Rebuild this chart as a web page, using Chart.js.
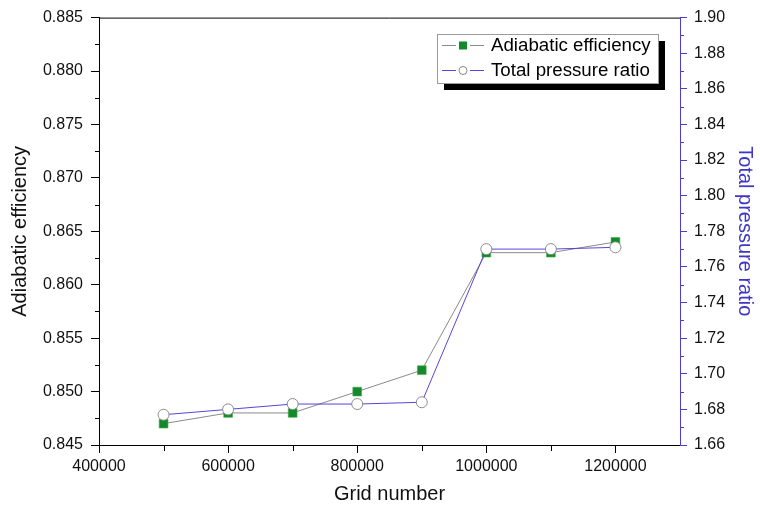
<!DOCTYPE html>
<html>
<head>
<meta charset="utf-8">
<script src="https://cdn.jsdelivr.net/npm/chart.js@4.4.1/dist/chart.umd.min.js"></script>
<style>
html,body{margin:0;padding:0;background:#fff;}
#wrap{width:760px;height:511px;}
</style>
</head>
<body>
<div id="wrap"><canvas id="c" width="760" height="511"></canvas></div>
<script>
const gridNumbers = [500000, 600000, 700000, 800000, 900000, 1000000, 1100000, 1200000];
const adiabaticEfficiency = [0.847, 0.848, 0.848, 0.850, 0.852, 0.863, 0.863, 0.864];
const totalPressureRatio = [1.677, 1.680, 1.683, 1.683, 1.684, 1.770, 1.770, 1.771];
const seriesLabels = ['Adiabatic efficiency', 'Total pressure ratio'];
const xTickValues = [400000, 600000, 800000, 1000000, 1200000];

const BLUE_AXIS = '#4a3fcf';
const BLUE_LINE = '#5446d8';
const GREEN = '#14882a';

const FONT = "'Liberation Sans', Arial, sans-serif";

const minorTicks = {
  id: 'minorTicks',
  afterDraw(chart) {
    const ctx = chart.ctx;
    const ca = chart.chartArea;
    ctx.save();
    ctx.lineWidth = 1;
    // top frame
    ctx.strokeStyle = '#000';
    ctx.beginPath();
    ctx.moveTo(ca.left, ca.top + 0.5);
    ctx.lineTo(ca.right, ca.top + 0.5);
    ctx.stroke();
    // x minor ticks
    const xs = chart.scales.x;
    for (let v = 500000; v < 1300000; v += 200000) {
      const px = Math.round(xs.getPixelForValue(v)) + 0.5;
      ctx.beginPath();
      ctx.moveTo(px, ca.bottom);
      ctx.lineTo(px, ca.bottom + 6);
      ctx.stroke();
    }
    // left minor ticks
    const yl = chart.scales.y;
    for (let v = 0.8475; v < 0.885; v += 0.005) {
      const py = Math.round(yl.getPixelForValue(v)) + 0.5;
      ctx.beginPath();
      ctx.moveTo(ca.left, py);
      ctx.lineTo(ca.left - 4, py);
      ctx.stroke();
    }
    // right minor ticks
    const yr = chart.scales.y1;
    ctx.strokeStyle = BLUE_AXIS;
    for (let v = 1.67; v < 1.90; v += 0.02) {
      const py = Math.round(yr.getPixelForValue(v)) + 0.5;
      ctx.beginPath();
      ctx.moveTo(ca.right, py);
      ctx.lineTo(ca.right + 4, py);
      ctx.stroke();
    }
    ctx.restore();
  }
};

const customLegend = {
  id: 'customLegend',
  afterDraw(chart) {
    const ctx = chart.ctx;
    const bx = 437, by = 34, bw = 221, bh = 49;
    ctx.save();
    ctx.fillStyle = '#000';
    ctx.fillRect(bx + 7, by + 7, bw, bh);
    ctx.fillStyle = '#fff';
    ctx.fillRect(bx, by, bw, bh);
    ctx.strokeStyle = '#9a9a9a';
    ctx.lineWidth = 1;
    ctx.strokeRect(bx + 0.5, by + 0.5, bw, bh);
    const rows = [45, 70];
    const ds = chart.data.datasets;
    ds.forEach((d, i) => {
      const y = rows[i];
      ctx.strokeStyle = d.borderColor;
      ctx.lineWidth = 1;
      ctx.beginPath();
      ctx.moveTo(442, y + 0.5); ctx.lineTo(456, y + 0.5);
      ctx.moveTo(470, y + 0.5); ctx.lineTo(484, y + 0.5);
      ctx.stroke();
      if (i === 0) {
        ctx.fillStyle = GREEN;
        ctx.fillRect(459, y - 3.5, 8, 8);
      } else {
        ctx.beginPath();
        ctx.arc(463, y + 0.5, 4, 0, Math.PI * 2);
        ctx.fillStyle = '#fff';
        ctx.fill();
        ctx.strokeStyle = '#888';
        ctx.stroke();
      }
      ctx.fillStyle = '#000';
      ctx.font = '18.7px ' + FONT;
      ctx.textBaseline = 'middle';
      ctx.textAlign = 'left';
      ctx.fillText(d.label, 491, y + 1);
    });
    ctx.restore();
  }
};

new Chart(document.getElementById('c'), {
  type: 'line',
  data: {
    datasets: [
      {
        label: seriesLabels[0],
        data: gridNumbers.map((g, i) => ({x: g, y: adiabaticEfficiency[i]})),
        yAxisID: 'y',
        borderColor: '#8a8a8a',
        borderWidth: 1,
        pointStyle: 'rect',
        pointRadius: 6.2,
        pointBackgroundColor: GREEN,
        pointBorderColor: '#3fae4a',
        pointBorderWidth: 0.6,
        tension: 0,
        order: 2
      },
      {
        label: seriesLabels[1],
        data: gridNumbers.map((g, i) => ({x: g, y: totalPressureRatio[i]})),
        yAxisID: 'y1',
        borderColor: BLUE_LINE,
        borderWidth: 1,
        pointStyle: 'circle',
        pointRadius: 5.5,
        pointBackgroundColor: '#fff',
        pointBorderColor: '#8c8c8c',
        pointBorderWidth: 1,
        tension: 0,
        order: 1
      }
    ]
  },
  options: {
    responsive: false,
    animation: false,
    layout: { padding: { top: 16, left: 0, right: 0, bottom: 0 } },
    plugins: { legend: { display: false }, tooltip: { enabled: false } },
    scales: {
      x: {
        type: 'linear',
        min: 400000,
        max: 1300000,
        afterBuildTicks(scale) { scale.ticks = xTickValues.map(v => ({value: v})); },
        afterFit(scale) { scale.height = 66; },
        grid: { drawOnChartArea: false, tickLength: 8, color: '#000', tickWidth: 1 },
        border: { display: true, color: '#000', width: 1 },
        ticks: { color: '#111', font: { size: 16, family: FONT }, padding: 4, maxRotation: 0, autoSkip: false,
                 callback: v => String(v) },
        title: { display: true, text: 'Grid number', color: '#111', font: { size: 20, family: FONT }, padding: { top: 0, bottom: 5 } }
      },
      y: {
        type: 'linear',
        position: 'left',
        min: 0.845,
        max: 0.885,
        ticks: { stepSize: 0.005, color: '#111', font: { size: 16, family: FONT }, padding: 8,
                 callback: v => v.toFixed(3) },
        afterFit(scale) { scale.width = 99; },
        grid: { drawOnChartArea: false, tickLength: 8, color: '#000' },
        border: { display: true, color: '#000', width: 1 },
        title: { display: true, text: 'Adiabatic efficiency', color: '#111', font: { size: 20, family: FONT }, padding: { top: 8, bottom: 0 } }
      },
      y1: {
        type: 'linear',
        position: 'right',
        min: 1.66,
        max: 1.90,
        ticks: { stepSize: 0.02, color: '#111', font: { size: 16, family: FONT }, padding: 7,
                 callback: v => v.toFixed(2) },
        afterFit(scale) { scale.width = 80; },
        grid: { drawOnChartArea: false, tickLength: 7, color: BLUE_AXIS },
        border: { display: true, color: BLUE_AXIS, width: 1 },
        title: { display: true, text: 'Total pressure ratio', color: '#3f35c8', font: { size: 20, family: FONT }, padding: { top: 3, bottom: 0 } }
      }
    }
  },
  plugins: [minorTicks, customLegend]
});
</script>
</body>
</html>
